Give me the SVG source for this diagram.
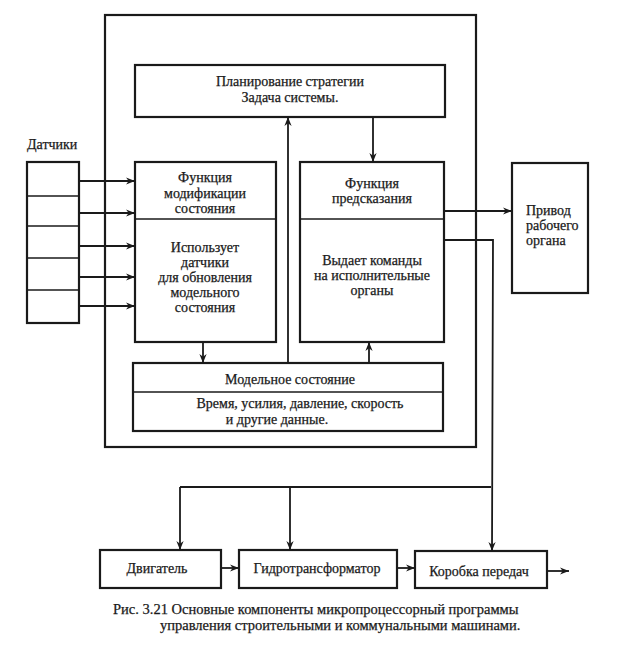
<svg xmlns="http://www.w3.org/2000/svg" width="623" height="646" viewBox="0 0 623 646">
<defs>
<marker id="ah" viewBox="0 0 10 10" refX="10" refY="5" markerWidth="9" markerHeight="9" markerUnits="userSpaceOnUse" orient="auto">
<path d="M0,1 L10,5 L0,9 L3,5 Z" fill="#1a1a1a"/>
</marker>
</defs>
<style>
.box{fill:none;stroke:#1a1a1a;stroke-width:2.2}
.div{fill:none;stroke:#1a1a1a;stroke-width:1.6}
.ln{fill:none;stroke:#1a1a1a;stroke-width:1.8}
.arr{fill:none;stroke:#1a1a1a;stroke-width:1.8;marker-end:url(#ah)}
.t{font-family:'Liberation Serif','DejaVu Serif','Noto Serif',serif;font-size:14px;fill:#1a1a1a;stroke:#1a1a1a;stroke-width:0.25}
.c{text-anchor:middle}
.cap{font-size:14.5px}
</style>
<rect width="623" height="646" fill="#ffffff"/>
<g id="outer"><rect class="box" x="105" y="15" width="371" height="432"/></g>
<g id="planning">
<rect class="box" x="135" y="65" width="310" height="52"/>
<text class="t c" x="290" y="86">Планирование стратегии</text>
<text class="t c" x="290" y="102">Задача системы.</text>
</g>
<g id="modfunc">
<rect class="box" x="135" y="162" width="141" height="180"/>
<line class="div" x1="135" y1="219" x2="276" y2="219"/>
<text class="t c" x="205" y="182">Функция</text>
<text class="t c" x="205" y="198">модификации</text>
<text class="t c" x="205" y="213">состояния</text>
<text class="t c" x="205" y="252">Использует</text>
<text class="t c" x="205" y="267">датчики</text>
<text class="t c" x="205" y="282">для обновления</text>
<text class="t c" x="205" y="297">модельного</text>
<text class="t c" x="205" y="312">состояния</text>
</g>
<g id="predfunc">
<rect class="box" x="300" y="162" width="144" height="180"/>
<line class="div" x1="300" y1="219" x2="444" y2="219"/>
<text class="t c" x="372" y="188">Функция</text>
<text class="t c" x="372" y="203">предсказания</text>
<text class="t c" x="372" y="265">Выдает команды</text>
<text class="t c" x="372" y="280">на исполнительные</text>
<text class="t c" x="372" y="295">органы</text>
</g>
<g id="modelstate">
<rect class="box" x="133" y="363" width="310" height="68"/>
<line class="div" x1="133" y1="392" x2="443" y2="392"/>
<text class="t c" x="290" y="384">Модельное состояние</text>
<text class="t c" x="300" y="408">Время, усилия, давление, скорость</text>
<text class="t c" x="277" y="424">и другие данные.</text>
</g>
<g id="sensors">
<text class="t" x="27" y="149">Датчики</text>
<rect class="box" x="27" y="162" width="52" height="161"/>
<line class="div" x1="27" y1="196" x2="79" y2="196"/>
<line class="div" x1="27" y1="226" x2="79" y2="226"/>
<line class="div" x1="27" y1="258" x2="79" y2="258"/>
<line class="div" x1="27" y1="290" x2="79" y2="290"/>
</g>
<g id="privod">
<rect class="box" x="512" y="163" width="76" height="130"/>
<text class="t" x="526" y="215">Привод</text>
<text class="t" x="526" y="230">рабочего</text>
<text class="t" x="526" y="245">органа</text>
</g>
<g id="engine">
<rect class="box" x="100" y="550" width="121" height="38"/>
<text class="t c" x="157" y="573">Двигатель</text>
</g>
<g id="hydro">
<rect class="box" x="239" y="550" width="158" height="38"/>
<text class="t c" x="317" y="573">Гидротрансформатор</text>
</g>
<g id="gearbox">
<rect class="box" x="415" y="551" width="132" height="37"/>
<text class="t c" x="479" y="576">Коробка передач</text>
</g>
<g id="caption">
<text class="t cap" x="113" y="614">Рис. 3.21 Основные компоненты микропроцессорный программы</text>
<text class="t cap" x="160" y="630">управления строительными и коммунальными машинами.</text>
</g>
<g id="connectors">
<line class="arr" x1="79" y1="181" x2="135" y2="181"/>
<line class="arr" x1="79" y1="213" x2="135" y2="213"/>
<line class="arr" x1="79" y1="246" x2="135" y2="246"/>
<line class="arr" x1="79" y1="277" x2="135" y2="277"/>
<line class="arr" x1="79" y1="306" x2="135" y2="306"/>
<line class="arr" x1="203" y1="342" x2="203" y2="363"/>
<line class="arr" x1="288" y1="363" x2="288" y2="117"/>
<line class="arr" x1="373" y1="117" x2="373" y2="162"/>
<line class="arr" x1="369" y1="363" x2="369" y2="342"/>
<line class="arr" x1="444" y1="211" x2="512" y2="211"/>
<polyline class="arr" points="444,240 493,240 492,551"/>
<polyline class="ln" points="180,487 491,487"/>
<line class="arr" x1="180" y1="487" x2="180" y2="550"/>
<line class="arr" x1="290" y1="487" x2="290" y2="550"/>
<line class="arr" x1="221" y1="568" x2="239" y2="568"/>
<line class="arr" x1="397" y1="568" x2="415" y2="568"/>
<line class="arr" x1="547" y1="571" x2="569" y2="571"/>
</g>
</svg>
